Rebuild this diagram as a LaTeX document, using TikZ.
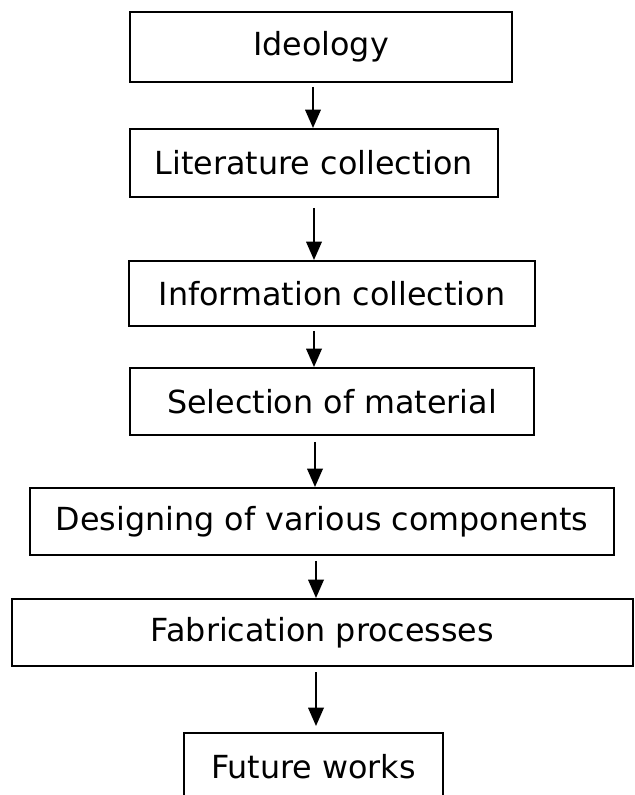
\documentclass[tikz,border=0pt]{standalone}
\usepackage{fontspec}
\setsansfont{DejaVu Sans}
\usepackage{tikz}
\usetikzlibrary{arrows.meta, calc}

\begin{document}
\begin{tikzpicture}[x = 0.025cm, y = -0.025cm]

    % Sans-serif text
    \sffamily

    % Picture frame
    \clip (0, 0) rectangle (635, 795);

    % Steps
    \tikzset{stepbox/.style={draw = black, line width = 1.4pt, rectangle, inner sep = 0pt, font = \fontsize{22.6}{26}\selectfont}}
    \tikzset{flow/.style={draw = black, line width = 1.4pt, -{Triangle[length = 13pt, width = 11pt]}}}

    % Step nodes
    \node (id)  [stepbox, minimum width = 9.55cm,   minimum height = 1.75cm]  at (321,   47)    {Ideology};
    \node (lit) [stepbox, minimum width = 9.2cm,    minimum height = 1.7cm]   at (314,  163)    {Literature collection};
    \node (inf) [stepbox, minimum width = 10.15cm,  minimum height = 1.625cm] at (332,  293.5)  {Information collection};
    \node (sel) [stepbox, minimum width = 10.1cm,   minimum height = 1.675cm] at (332,  401.5)  {Selection of material};
    \node (des) [stepbox, minimum width = 14.6cm,   minimum height = 1.675cm] at (322,  521.5)  {Designing of various components};
    \node (fab) [stepbox, minimum width = 15.525cm, minimum height = 1.675cm] at (322.5, 632.5) {Fabrication processes};
    \node (fut) [stepbox, minimum width = 6.475cm,  minimum height = 1.675cm] at (313.5, 766.5) {Future works};

    % Arrows
    \path[flow] ($(id.south)  + (-8, 4)$)  -- ($(lit.north) + (-1, 0)$);
    \path[flow] ($(lit.south) + (0, 10)$)  -- (lit.south |- inf.north);
    \path[flow] ($(inf.south) + (-18, 4)$) -- ($(sel.north) + (-18, 0)$);
    \path[flow] ($(sel.south) + (-17, 6)$) -- ($(des.north) + (-7, 0)$);
    \path[flow] ($(des.south) + (-6, 5)$)  -- ($(fab.north) + (-6.5, 0)$);
    \path[flow] ($(fab.south) + (-6.5, 5)$) -- ($(fut.north) + (2.5, -6)$);

\end{tikzpicture}
\end{document}
